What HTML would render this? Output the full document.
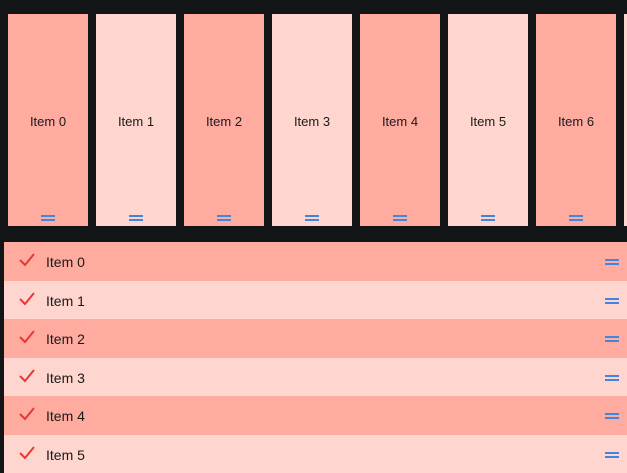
<!DOCTYPE html>
<html><head><style>
body{margin:0;width:627px;height:467px;background:#131415;overflow:hidden;position:relative;font-family:"Liberation Sans",sans-serif;color:#1a1a1a}
.c{position:absolute;top:14px;width:80px;height:212px;font-size:13px;text-align:center}
.c span{position:absolute;top:100px;left:0;right:0}
.h{position:absolute;width:14px;height:2px;background:#3f86e0;box-shadow:0 4px 0 #3f86e0}
.r{position:absolute;left:4px;width:623px;height:38.5px;font-size:14px}
.r span{position:absolute;left:42px;top:12px}
.r svg{position:absolute;left:15px;top:11px}
.d{background:#ffab9f}.l{background:#ffd5cf}
</style></head><body>
<div class="c d" style="left:8px"><span>Item 0</span><div class="h" style="left:33px;top:201px"></div></div>
<div class="c l" style="left:96px"><span>Item 1</span><div class="h" style="left:33px;top:201px"></div></div>
<div class="c d" style="left:184px"><span>Item 2</span><div class="h" style="left:33px;top:201px"></div></div>
<div class="c l" style="left:272px"><span>Item 3</span><div class="h" style="left:33px;top:201px"></div></div>
<div class="c d" style="left:360px"><span>Item 4</span><div class="h" style="left:33px;top:201px"></div></div>
<div class="c l" style="left:448px"><span>Item 5</span><div class="h" style="left:33px;top:201px"></div></div>
<div class="c d" style="left:536px"><span>Item 6</span><div class="h" style="left:33px;top:201px"></div></div>
<div class="c l" style="left:624px"></div>

<div class="r d" style="top:242px"><svg width="16" height="14"><path d="M1 7l5 5L15 1" stroke="#e53935" stroke-width="2" fill="none"/></svg><span>Item 0</span><div class="h" style="left:601px;top:17px"></div></div>
<div class="r l" style="top:280.5px"><svg width="16" height="14"><path d="M1 7l5 5L15 1" stroke="#e53935" stroke-width="2" fill="none"/></svg><span>Item 1</span><div class="h" style="left:601px;top:17px"></div></div>
<div class="r d" style="top:319px"><svg width="16" height="14"><path d="M1 7l5 5L15 1" stroke="#e53935" stroke-width="2" fill="none"/></svg><span>Item 2</span><div class="h" style="left:601px;top:17px"></div></div>
<div class="r l" style="top:357.5px"><svg width="16" height="14"><path d="M1 7l5 5L15 1" stroke="#e53935" stroke-width="2" fill="none"/></svg><span>Item 3</span><div class="h" style="left:601px;top:17px"></div></div>
<div class="r d" style="top:396px"><svg width="16" height="14"><path d="M1 7l5 5L15 1" stroke="#e53935" stroke-width="2" fill="none"/></svg><span>Item 4</span><div class="h" style="left:601px;top:17px"></div></div>
<div class="r l" style="top:434.5px"><svg width="16" height="14"><path d="M1 7l5 5L15 1" stroke="#e53935" stroke-width="2" fill="none"/></svg><span>Item 5</span><div class="h" style="left:601px;top:17px"></div></div>
</body></html>
